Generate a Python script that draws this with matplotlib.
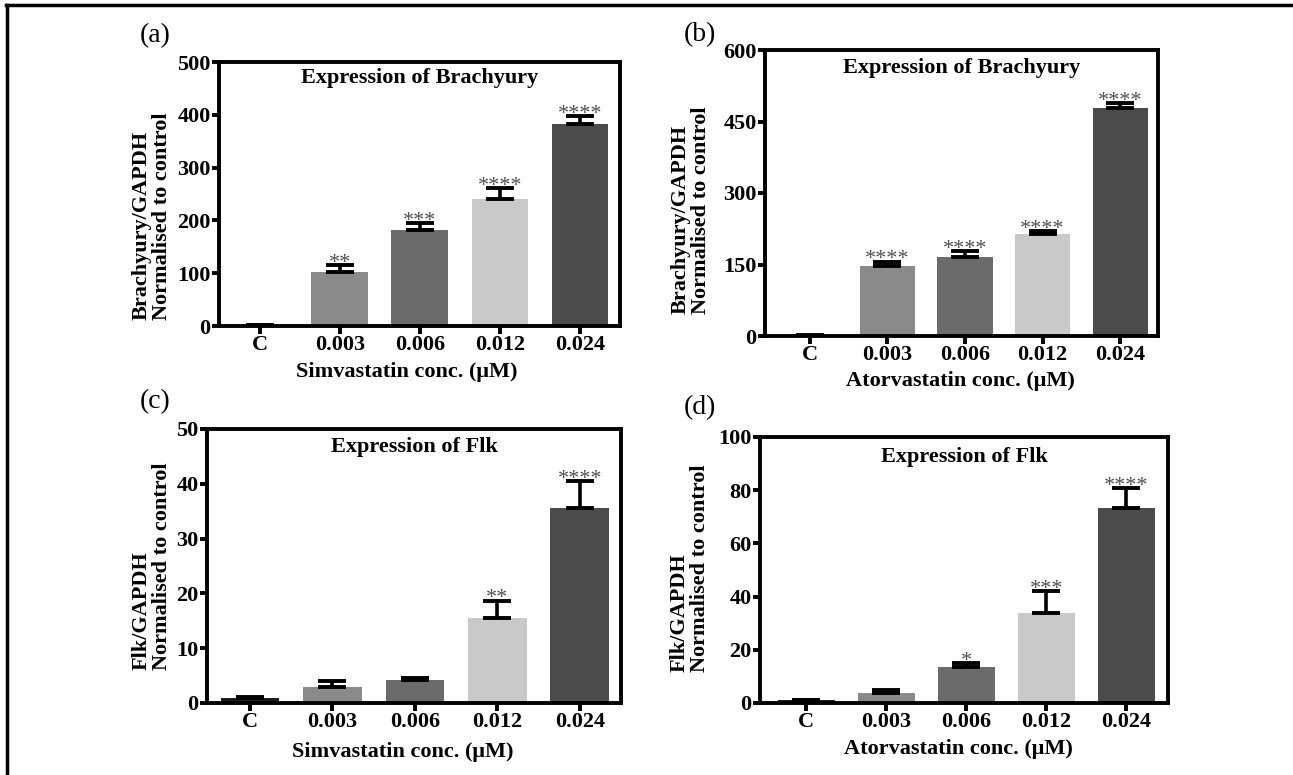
import numpy as np
import matplotlib.pyplot as plt
from matplotlib.lines import Line2D

W, H = 1293, 775

plt.rcParams['font.family'] = ['Liberation Serif', 'DejaVu Serif']
plt.rcParams['font.weight'] = 'bold'

# ── Dados ─────────────────────────────────────────────────────────────────────
categories = ['C', '0.003', '0.006', '0.012', '0.024']
bar_colors = ['#1c1c1c', '#8a8a8a', '#6b6b6b', '#c9c9c9', '#4b4b4b']

# (a) Brachyury — Simvastatina
bra_sim = [1, 102, 182, 240, 382]
bra_sim_err = [0.5, 13, 13, 21, 16]
bra_sim_stars = ['', '**', '***', '****', '****']

# (b) Brachyury — Atorvastatina
bra_ator = [1, 147, 166, 213, 479]
bra_ator_err = [0.5, 9, 12, 7, 9]
bra_ator_stars = ['', '****', '****', '****', '****']

# (c) Flk — Simvastatina
flk_sim = [1.0, 2.9, 4.25, 15.5, 35.5]
flk_sim_err = [0.1, 1.05, 0.3, 3.2, 5.0]
flk_sim_stars = ['', '', '', '**', '****']

# (d) Flk — Atorvastatina
flk_ator = [1.0, 3.7, 13.7, 34.0, 73.2]
flk_ator_err = [0.2, 1.0, 1.3, 8.0, 7.5]
flk_ator_stars = ['', '', '*', '***', '****']

# ── Layout (pixels) ───────────────────────────────────────────────────────────
panels = [
    ('(a)', bra_sim, bra_sim_err, bra_sim_stars, np.arange(0, 501, 100),
     'Brachyury/GAPDH', 'Simvastatin conc. (\u03bcM)', (219, 620, 62, 326),
     (-0.51, 4.5), 78, (152, 216), (407, 372), (155, 36), 'Expression of Brachyury'),
    ('(b)', bra_ator, bra_ator_err, bra_ator_stars, np.arange(0, 601, 150),
     'Brachyury/GAPDH', 'Atorvastatin conc. (\u03bcM)', (765, 1158, 50, 336),
     (-0.58, 4.49), 68, (691, 210), (960, 381), (700, 35), 'Expression of Brachyury'),
    ('(c)', flk_sim, flk_sim_err, flk_sim_stars, np.arange(0, 51, 10),
     'Flk/GAPDH', 'Simvastatin conc. (\u03bcM)', (207, 621, 429, 703),
     (-0.52, 4.5), 447, (152, 566), (403, 752), (155, 402), 'Expression of Flk'),
    ('(d)', flk_ator, flk_ator_err, flk_ator_stars, np.arange(0, 101, 20),
     'Flk/GAPDH', 'Atorvastatin conc. (\u03bcM)', (760, 1168, 437, 703),
     (-0.58, 4.52), 457, (690, 568), (958, 749), (700, 408), 'Expression of Flk'),
]

fig = plt.figure(figsize=(W / 100, H / 100), dpi=100, facecolor='white')

x = np.arange(len(categories))
for (letter, vals, errs, stars, yt, ylab, xlab, (l, r, t, b), xl, ty,
     ylxy, xlxy, lxy, title) in panels:
    ax = fig.add_axes([l / W, 1 - b / H, (r - l) / W, (b - t) / H])
    ax.bar(x, vals, width=0.71, color=bar_colors, zorder=2)
    ax.errorbar(x, vals, yerr=[np.zeros(len(vals)), errs], fmt='none',
                ecolor='black', elinewidth=2.6, capsize=10, capthick=2.8, zorder=3)
    for xi, v, e, s in zip(x, vals, errs, stars):
        if s:
            ax.annotate(s, (xi, v + e), xytext=(0, -2), textcoords='offset points',
                        ha='center', va='baseline', fontsize=16,
                        fontweight='normal', color='#505050')
    ax.set_xlim(*xl)
    ax.set_ylim(yt[0], yt[-1])
    ax.set_yticks(yt)
    ax.set_xticks(x)
    ax.set_xticklabels(categories)
    for sp in ax.spines.values():
        sp.set_linewidth(2.8)
    ax.tick_params(axis='x', direction='out', length=6, width=2.8, labelsize=16, pad=0.5)
    ax.tick_params(axis='y', direction='out', length=5, width=2.8, labelsize=16, pad=1)
    ax.text(0.5, (b - ty) / (b - t), title, transform=ax.transAxes,
            ha='center', va='center', fontsize=16, fontweight='bold')
    fig.text(ylxy[0] / W, 1 - ylxy[1] / H, ylab + '\nNormalised to control',
             rotation=90, ha='center', va='center', multialignment='left',
             fontsize=16, fontweight='bold', linespacing=1.0)
    fig.text(xlxy[0] / W, 1 - xlxy[1] / H, xlab, ha='center', va='center',
             fontsize=16, fontweight='bold')
    fig.text(lxy[0] / W, 1 - lxy[1] / H, letter, ha='center', va='center',
             fontsize=20, fontweight='normal')

# moldura da figura (topo e esquerda)
fig.add_artist(Line2D([6 / W, 1], [1 - 5 / H, 1 - 5 / H], transform=fig.transFigure,
                      color='black', linewidth=2.5))
fig.add_artist(Line2D([7 / W, 7 / W], [0, 1 - 5 / H], transform=fig.transFigure,
                      color='black', linewidth=2.5))

plt.savefig('out.png', dpi=100, facecolor='white')
plt.close()
